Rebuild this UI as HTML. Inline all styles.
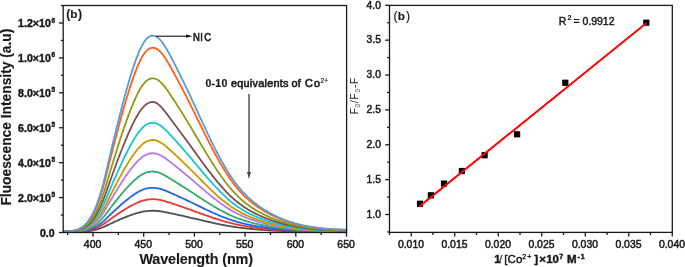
<!DOCTYPE html>
<html><head><meta charset="utf-8"><style>
html,body{margin:0;padding:0;background:#fff;}
body{width:685px;height:267px;overflow:hidden;font-family:"Liberation Sans",sans-serif;}
svg{display:block;will-change:transform;}
</style></head><body>
<svg width="685" height="267" viewBox="0 0 685 267">
<rect width="685" height="267" fill="#fff"/>
<g clip-path="url(#cl)">
<path d="M63.0,232.37 L64.0,232.36 L65.0,232.36 L66.0,232.35 L67.0,232.35 L68.0,232.34 L69.0,232.34 L70.0,232.33 L71.0,232.32 L72.0,232.31 L73.0,232.29 L74.0,232.27 L75.0,232.25 L76.0,232.22 L77.0,232.19 L78.0,232.15 L79.0,232.10 L80.0,232.04 L81.0,231.98 L82.0,231.91 L83.0,231.83 L84.0,231.73 L85.0,231.63 L86.0,231.52 L87.0,231.39 L88.0,231.25 L89.0,231.10 L90.0,230.93 L91.0,230.75 L92.0,230.56 L93.0,230.34 L94.0,230.12 L95.0,229.87 L96.0,229.61 L97.0,229.33 L98.0,229.03 L99.0,228.71 L100.0,228.36 L101.0,228.00 L102.0,227.62 L103.0,227.22 L104.0,226.79 L105.0,226.34 L106.0,225.87 L107.0,225.40 L108.0,224.92 L109.0,224.45 L110.0,223.97 L111.0,223.51 L112.0,223.04 L113.0,222.58 L114.0,222.12 L115.0,221.66 L116.0,221.21 L117.0,220.76 L118.0,220.31 L119.0,219.87 L120.0,219.44 L121.0,219.01 L122.0,218.58 L123.0,218.16 L124.0,217.75 L125.0,217.34 L126.0,216.94 L127.0,216.55 L128.0,216.16 L129.0,215.78 L130.0,215.41 L131.0,215.05 L132.0,214.70 L133.0,214.35 L134.0,214.02 L135.0,213.70 L136.0,213.39 L137.0,213.09 L138.0,212.81 L139.0,212.54 L140.0,212.29 L141.0,212.06 L142.0,211.84 L143.0,211.64 L144.0,211.47 L145.0,211.31 L146.0,211.17 L147.0,211.05 L148.0,210.95 L149.0,210.88 L150.0,210.82 L151.0,210.78 L152.0,210.75 L153.0,210.75 L154.0,210.77 L155.0,210.80 L156.0,210.86 L157.0,210.93 L158.0,211.02 L159.0,211.13 L160.0,211.25 L161.0,211.39 L162.0,211.54 L163.0,211.71 L164.0,211.88 L165.0,212.06 L166.0,212.26 L167.0,212.45 L168.0,212.66 L169.0,212.87 L170.0,213.08 L171.0,213.29 L172.0,213.51 L173.0,213.73 L174.0,213.95 L175.0,214.16 L176.0,214.38 L177.0,214.60 L178.0,214.82 L179.0,215.05 L180.0,215.27 L181.0,215.49 L182.0,215.72 L183.0,215.94 L184.0,216.17 L185.0,216.40 L186.0,216.63 L187.0,216.86 L188.0,217.09 L189.0,217.32 L190.0,217.55 L191.0,217.79 L192.0,218.02 L193.0,218.26 L194.0,218.50 L195.0,218.73 L196.0,218.97 L197.0,219.21 L198.0,219.44 L199.0,219.68 L200.0,219.92 L201.0,220.15 L202.0,220.39 L203.0,220.62 L204.0,220.86 L205.0,221.09 L206.0,221.32 L207.0,221.55 L208.0,221.78 L209.0,222.01 L210.0,222.24 L211.0,222.46 L212.0,222.68 L213.0,222.90 L214.0,223.12 L215.0,223.34 L216.0,223.55 L217.0,223.76 L218.0,223.97 L219.0,224.17 L220.0,224.38 L221.0,224.57 L222.0,224.77 L223.0,224.96 L224.0,225.15 L225.0,225.34 L226.0,225.52 L227.0,225.70 L228.0,225.88 L229.0,226.05 L230.0,226.22 L231.0,226.38 L232.0,226.55 L233.0,226.70 L234.0,226.86 L235.0,227.01 L236.0,227.15 L237.0,227.29 L238.0,227.43 L239.0,227.56 L240.0,227.69 L241.0,227.82 L242.0,227.94 L243.0,228.06 L244.0,228.18 L245.0,228.30 L246.0,228.41 L247.0,228.51 L248.0,228.62 L249.0,228.72 L250.0,228.82 L251.0,228.92 L252.0,229.01 L253.0,229.10 L254.0,229.19 L255.0,229.28 L256.0,229.36 L257.0,229.45 L258.0,229.53 L259.0,229.60 L260.0,229.68 L261.0,229.76 L262.0,229.83 L263.0,229.90 L264.0,229.97 L265.0,230.04 L266.0,230.11 L267.0,230.17 L268.0,230.24 L269.0,230.30 L270.0,230.36 L271.0,230.42 L272.0,230.48 L273.0,230.54 L274.0,230.59 L275.0,230.65 L276.0,230.70 L277.0,230.75 L278.0,230.80 L279.0,230.85 L280.0,230.90 L281.0,230.95 L282.0,230.99 L283.0,231.04 L284.0,231.08 L285.0,231.12 L286.0,231.16 L287.0,231.20 L288.0,231.24 L289.0,231.28 L290.0,231.32 L291.0,231.35 L292.0,231.39 L293.0,231.42 L294.0,231.45 L295.0,231.49 L296.0,231.52 L297.0,231.55 L298.0,231.58 L299.0,231.60 L300.0,231.63 L301.0,231.66 L302.0,231.68 L303.0,231.71 L304.0,231.73 L305.0,231.75 L306.0,231.77 L307.0,231.80 L308.0,231.82 L309.0,231.84 L310.0,231.86 L311.0,231.87 L312.0,231.89 L313.0,231.91 L314.0,231.92 L315.0,231.94 L316.0,231.95 L317.0,231.97 L318.0,231.98 L319.0,232.00 L320.0,232.01 L321.0,232.02 L322.0,232.03 L323.0,232.04 L324.0,232.05 L325.0,232.06 L326.0,232.07 L327.0,232.08 L328.0,232.09 L329.0,232.10 L330.0,232.11 L331.0,232.12 L332.0,232.12 L333.0,232.13 L334.0,232.14 L335.0,232.14 L336.0,232.15 L337.0,232.15 L338.0,232.16 L339.0,232.17 L340.0,232.17 L341.0,232.18 L342.0,232.18 L343.0,232.19 L344.0,232.19 L345.0,232.19 L346.0,232.20" fill="none" stroke="#4f4f4f" stroke-width="1.8" stroke-linejoin="round"/>
<path d="M63.0,232.30 L64.0,232.29 L65.0,232.28 L66.0,232.27 L67.0,232.26 L68.0,232.26 L69.0,232.25 L70.0,232.24 L71.0,232.22 L72.0,232.21 L73.0,232.18 L74.0,232.15 L75.0,232.12 L76.0,232.07 L77.0,232.02 L78.0,231.96 L79.0,231.89 L80.0,231.80 L81.0,231.71 L82.0,231.59 L83.0,231.47 L84.0,231.33 L85.0,231.17 L86.0,231.00 L87.0,230.80 L88.0,230.59 L89.0,230.36 L90.0,230.10 L91.0,229.82 L92.0,229.52 L93.0,229.20 L94.0,228.85 L95.0,228.47 L96.0,228.07 L97.0,227.64 L98.0,227.18 L99.0,226.69 L100.0,226.17 L101.0,225.62 L102.0,225.03 L103.0,224.41 L104.0,223.76 L105.0,223.07 L106.0,222.35 L107.0,221.62 L108.0,220.89 L109.0,220.17 L110.0,219.45 L111.0,218.73 L112.0,218.02 L113.0,217.31 L114.0,216.61 L115.0,215.91 L116.0,215.21 L117.0,214.52 L118.0,213.84 L119.0,213.17 L120.0,212.50 L121.0,211.84 L122.0,211.19 L123.0,210.55 L124.0,209.91 L125.0,209.29 L126.0,208.68 L127.0,208.07 L128.0,207.48 L129.0,206.90 L130.0,206.34 L131.0,205.78 L132.0,205.24 L133.0,204.72 L134.0,204.21 L135.0,203.71 L136.0,203.24 L137.0,202.79 L138.0,202.35 L139.0,201.95 L140.0,201.56 L141.0,201.20 L142.0,200.87 L143.0,200.57 L144.0,200.30 L145.0,200.05 L146.0,199.84 L147.0,199.66 L148.0,199.51 L149.0,199.39 L150.0,199.30 L151.0,199.24 L152.0,199.21 L153.0,199.20 L154.0,199.22 L155.0,199.28 L156.0,199.36 L157.0,199.48 L158.0,199.62 L159.0,199.78 L160.0,199.97 L161.0,200.18 L162.0,200.42 L163.0,200.67 L164.0,200.93 L165.0,201.21 L166.0,201.51 L167.0,201.81 L168.0,202.12 L169.0,202.44 L170.0,202.77 L171.0,203.10 L172.0,203.43 L173.0,203.76 L174.0,204.09 L175.0,204.43 L176.0,204.76 L177.0,205.10 L178.0,205.44 L179.0,205.78 L180.0,206.12 L181.0,206.46 L182.0,206.80 L183.0,207.15 L184.0,207.50 L185.0,207.84 L186.0,208.19 L187.0,208.55 L188.0,208.90 L189.0,209.26 L190.0,209.62 L191.0,209.98 L192.0,210.34 L193.0,210.70 L194.0,211.06 L195.0,211.42 L196.0,211.79 L197.0,212.15 L198.0,212.51 L199.0,212.87 L200.0,213.24 L201.0,213.60 L202.0,213.96 L203.0,214.32 L204.0,214.68 L205.0,215.03 L206.0,215.39 L207.0,215.74 L208.0,216.09 L209.0,216.44 L210.0,216.79 L211.0,217.13 L212.0,217.47 L213.0,217.81 L214.0,218.14 L215.0,218.47 L216.0,218.80 L217.0,219.12 L218.0,219.44 L219.0,219.75 L220.0,220.06 L221.0,220.37 L222.0,220.67 L223.0,220.96 L224.0,221.25 L225.0,221.54 L226.0,221.82 L227.0,222.09 L228.0,222.36 L229.0,222.63 L230.0,222.88 L231.0,223.14 L232.0,223.38 L233.0,223.62 L234.0,223.86 L235.0,224.09 L236.0,224.31 L237.0,224.53 L238.0,224.74 L239.0,224.94 L240.0,225.14 L241.0,225.34 L242.0,225.53 L243.0,225.71 L244.0,225.89 L245.0,226.06 L246.0,226.23 L247.0,226.40 L248.0,226.56 L249.0,226.71 L250.0,226.87 L251.0,227.01 L252.0,227.16 L253.0,227.30 L254.0,227.43 L255.0,227.57 L256.0,227.70 L257.0,227.82 L258.0,227.95 L259.0,228.07 L260.0,228.18 L261.0,228.30 L262.0,228.41 L263.0,228.52 L264.0,228.63 L265.0,228.73 L266.0,228.84 L267.0,228.94 L268.0,229.03 L269.0,229.13 L270.0,229.22 L271.0,229.32 L272.0,229.41 L273.0,229.49 L274.0,229.58 L275.0,229.66 L276.0,229.74 L277.0,229.82 L278.0,229.90 L279.0,229.98 L280.0,230.05 L281.0,230.12 L282.0,230.19 L283.0,230.26 L284.0,230.33 L285.0,230.39 L286.0,230.45 L287.0,230.52 L288.0,230.58 L289.0,230.63 L290.0,230.69 L291.0,230.74 L292.0,230.80 L293.0,230.85 L294.0,230.90 L295.0,230.95 L296.0,230.99 L297.0,231.04 L298.0,231.08 L299.0,231.13 L300.0,231.17 L301.0,231.21 L302.0,231.25 L303.0,231.28 L304.0,231.32 L305.0,231.36 L306.0,231.39 L307.0,231.42 L308.0,231.45 L309.0,231.48 L310.0,231.51 L311.0,231.54 L312.0,231.57 L313.0,231.59 L314.0,231.62 L315.0,231.64 L316.0,231.66 L317.0,231.69 L318.0,231.71 L319.0,231.73 L320.0,231.75 L321.0,231.77 L322.0,231.78 L323.0,231.80 L324.0,231.82 L325.0,231.83 L326.0,231.85 L327.0,231.86 L328.0,231.87 L329.0,231.89 L330.0,231.90 L331.0,231.91 L332.0,231.92 L333.0,231.93 L334.0,231.94 L335.0,231.95 L336.0,231.96 L337.0,231.97 L338.0,231.98 L339.0,231.99 L340.0,232.00 L341.0,232.00 L342.0,232.01 L343.0,232.02 L344.0,232.02 L345.0,232.03 L346.0,232.04" fill="none" stroke="#ee3636" stroke-width="1.8" stroke-linejoin="round"/>
<path d="M63.0,232.24 L64.0,232.22 L65.0,232.21 L66.0,232.19 L67.0,232.18 L68.0,232.17 L69.0,232.16 L70.0,232.15 L71.0,232.13 L72.0,232.10 L73.0,232.07 L74.0,232.04 L75.0,231.99 L76.0,231.93 L77.0,231.86 L78.0,231.78 L79.0,231.68 L80.0,231.56 L81.0,231.43 L82.0,231.28 L83.0,231.12 L84.0,230.93 L85.0,230.72 L86.0,230.48 L87.0,230.22 L88.0,229.94 L89.0,229.62 L90.0,229.28 L91.0,228.91 L92.0,228.51 L93.0,228.07 L94.0,227.60 L95.0,227.10 L96.0,226.55 L97.0,225.98 L98.0,225.36 L99.0,224.70 L100.0,224.00 L101.0,223.26 L102.0,222.47 L103.0,221.64 L104.0,220.76 L105.0,219.84 L106.0,218.88 L107.0,217.90 L108.0,216.92 L109.0,215.95 L110.0,214.98 L111.0,214.02 L112.0,213.06 L113.0,212.11 L114.0,211.16 L115.0,210.23 L116.0,209.29 L117.0,208.37 L118.0,207.46 L119.0,206.55 L120.0,205.65 L121.0,204.77 L122.0,203.89 L123.0,203.03 L124.0,202.18 L125.0,201.34 L126.0,200.52 L127.0,199.71 L128.0,198.92 L129.0,198.14 L130.0,197.38 L131.0,196.64 L132.0,195.91 L133.0,195.20 L134.0,194.52 L135.0,193.86 L136.0,193.22 L137.0,192.61 L138.0,192.03 L139.0,191.49 L140.0,190.97 L141.0,190.49 L142.0,190.04 L143.0,189.64 L144.0,189.27 L145.0,188.94 L146.0,188.66 L147.0,188.42 L148.0,188.22 L149.0,188.06 L150.0,187.94 L151.0,187.85 L152.0,187.81 L153.0,187.80 L154.0,187.83 L155.0,187.91 L156.0,188.02 L157.0,188.17 L158.0,188.36 L159.0,188.58 L160.0,188.84 L161.0,189.12 L162.0,189.43 L163.0,189.77 L164.0,190.13 L165.0,190.50 L166.0,190.90 L167.0,191.30 L168.0,191.72 L169.0,192.15 L170.0,192.59 L171.0,193.03 L172.0,193.47 L173.0,193.92 L174.0,194.37 L175.0,194.82 L176.0,195.27 L177.0,195.72 L178.0,196.17 L179.0,196.63 L180.0,197.09 L181.0,197.54 L182.0,198.01 L183.0,198.47 L184.0,198.94 L185.0,199.40 L186.0,199.87 L187.0,200.35 L188.0,200.82 L189.0,201.30 L190.0,201.78 L191.0,202.26 L192.0,202.75 L193.0,203.23 L194.0,203.72 L195.0,204.21 L196.0,204.69 L197.0,205.18 L198.0,205.67 L199.0,206.16 L200.0,206.64 L201.0,207.13 L202.0,207.61 L203.0,208.09 L204.0,208.57 L205.0,209.05 L206.0,209.53 L207.0,210.00 L208.0,210.48 L209.0,210.94 L210.0,211.41 L211.0,211.87 L212.0,212.33 L213.0,212.78 L214.0,213.23 L215.0,213.67 L216.0,214.11 L217.0,214.54 L218.0,214.97 L219.0,215.39 L220.0,215.80 L221.0,216.21 L222.0,216.61 L223.0,217.01 L224.0,217.40 L225.0,217.78 L226.0,218.16 L227.0,218.53 L228.0,218.89 L229.0,219.25 L230.0,219.59 L231.0,219.93 L232.0,220.26 L233.0,220.59 L234.0,220.90 L235.0,221.21 L236.0,221.51 L237.0,221.80 L238.0,222.08 L239.0,222.36 L240.0,222.62 L241.0,222.88 L242.0,223.14 L243.0,223.38 L244.0,223.62 L245.0,223.86 L246.0,224.09 L247.0,224.31 L248.0,224.52 L249.0,224.73 L250.0,224.94 L251.0,225.14 L252.0,225.33 L253.0,225.52 L254.0,225.70 L255.0,225.88 L256.0,226.05 L257.0,226.22 L258.0,226.39 L259.0,226.55 L260.0,226.71 L261.0,226.86 L262.0,227.01 L263.0,227.16 L264.0,227.30 L265.0,227.44 L266.0,227.58 L267.0,227.72 L268.0,227.85 L269.0,227.98 L270.0,228.10 L271.0,228.23 L272.0,228.35 L273.0,228.46 L274.0,228.58 L275.0,228.69 L276.0,228.80 L277.0,228.91 L278.0,229.01 L279.0,229.11 L280.0,229.21 L281.0,229.31 L282.0,229.40 L283.0,229.49 L284.0,229.58 L285.0,229.67 L286.0,229.75 L287.0,229.84 L288.0,229.92 L289.0,229.99 L290.0,230.07 L291.0,230.14 L292.0,230.22 L293.0,230.28 L294.0,230.35 L295.0,230.42 L296.0,230.48 L297.0,230.54 L298.0,230.60 L299.0,230.66 L300.0,230.71 L301.0,230.77 L302.0,230.82 L303.0,230.87 L304.0,230.92 L305.0,230.96 L306.0,231.01 L307.0,231.05 L308.0,231.10 L309.0,231.14 L310.0,231.17 L311.0,231.21 L312.0,231.25 L313.0,231.28 L314.0,231.32 L315.0,231.35 L316.0,231.38 L317.0,231.41 L318.0,231.44 L319.0,231.46 L320.0,231.49 L321.0,231.51 L322.0,231.54 L323.0,231.56 L324.0,231.58 L325.0,231.60 L326.0,231.62 L327.0,231.64 L328.0,231.66 L329.0,231.68 L330.0,231.69 L331.0,231.71 L332.0,231.73 L333.0,231.74 L334.0,231.75 L335.0,231.77 L336.0,231.78 L337.0,231.79 L338.0,231.80 L339.0,231.81 L340.0,231.82 L341.0,231.83 L342.0,231.84 L343.0,231.85 L344.0,231.86 L345.0,231.87 L346.0,231.88" fill="none" stroke="#1f66ee" stroke-width="1.8" stroke-linejoin="round"/>
<path d="M63.0,232.14 L64.0,232.12 L65.0,232.10 L66.0,232.08 L67.0,232.07 L68.0,232.06 L69.0,232.04 L70.0,232.02 L71.0,231.99 L72.0,231.96 L73.0,231.92 L74.0,231.87 L75.0,231.80 L76.0,231.72 L77.0,231.63 L78.0,231.51 L79.0,231.38 L80.0,231.22 L81.0,231.04 L82.0,230.84 L83.0,230.61 L84.0,230.35 L85.0,230.06 L86.0,229.74 L87.0,229.39 L88.0,229.00 L89.0,228.57 L90.0,228.11 L91.0,227.60 L92.0,227.05 L93.0,226.45 L94.0,225.81 L95.0,225.13 L96.0,224.39 L97.0,223.60 L98.0,222.75 L99.0,221.86 L100.0,220.90 L101.0,219.89 L102.0,218.82 L103.0,217.68 L104.0,216.48 L105.0,215.22 L106.0,213.91 L107.0,212.57 L108.0,211.24 L109.0,209.91 L110.0,208.59 L111.0,207.28 L112.0,205.97 L113.0,204.67 L114.0,203.39 L115.0,202.10 L116.0,200.83 L117.0,199.57 L118.0,198.32 L119.0,197.09 L120.0,195.86 L121.0,194.66 L122.0,193.46 L123.0,192.29 L124.0,191.13 L125.0,189.98 L126.0,188.86 L127.0,187.76 L128.0,186.67 L129.0,185.61 L130.0,184.57 L131.0,183.56 L132.0,182.57 L133.0,181.60 L134.0,180.67 L135.0,179.77 L136.0,178.90 L137.0,178.07 L138.0,177.28 L139.0,176.53 L140.0,175.83 L141.0,175.17 L142.0,174.56 L143.0,174.01 L144.0,173.51 L145.0,173.06 L146.0,172.68 L147.0,172.35 L148.0,172.07 L149.0,171.85 L150.0,171.69 L151.0,171.57 L152.0,171.51 L153.0,171.50 L154.0,171.55 L155.0,171.67 L156.0,171.85 L157.0,172.08 L158.0,172.37 L159.0,172.71 L160.0,173.10 L161.0,173.53 L162.0,174.00 L163.0,174.50 L164.0,175.02 L165.0,175.57 L166.0,176.14 L167.0,176.73 L168.0,177.32 L169.0,177.93 L170.0,178.55 L171.0,179.16 L172.0,179.78 L173.0,180.40 L174.0,181.02 L175.0,181.63 L176.0,182.25 L177.0,182.88 L178.0,183.50 L179.0,184.12 L180.0,184.75 L181.0,185.38 L182.0,186.01 L183.0,186.64 L184.0,187.27 L185.0,187.91 L186.0,188.55 L187.0,189.20 L188.0,189.84 L189.0,190.49 L190.0,191.14 L191.0,191.79 L192.0,192.45 L193.0,193.10 L194.0,193.76 L195.0,194.42 L196.0,195.07 L197.0,195.73 L198.0,196.39 L199.0,197.04 L200.0,197.69 L201.0,198.35 L202.0,199.00 L203.0,199.64 L204.0,200.29 L205.0,200.93 L206.0,201.57 L207.0,202.21 L208.0,202.84 L209.0,203.47 L210.0,204.09 L211.0,204.71 L212.0,205.32 L213.0,205.92 L214.0,206.52 L215.0,207.12 L216.0,207.70 L217.0,208.28 L218.0,208.85 L219.0,209.42 L220.0,209.97 L221.0,210.52 L222.0,211.06 L223.0,211.59 L224.0,212.12 L225.0,212.63 L226.0,213.13 L227.0,213.63 L228.0,214.11 L229.0,214.59 L230.0,215.05 L231.0,215.51 L232.0,215.95 L233.0,216.38 L234.0,216.81 L235.0,217.22 L236.0,217.62 L237.0,218.01 L238.0,218.39 L239.0,218.76 L240.0,219.12 L241.0,219.47 L242.0,219.81 L243.0,220.14 L244.0,220.47 L245.0,220.78 L246.0,221.09 L247.0,221.39 L248.0,221.68 L249.0,221.96 L250.0,222.23 L251.0,222.50 L252.0,222.76 L253.0,223.02 L254.0,223.26 L255.0,223.51 L256.0,223.74 L257.0,223.97 L258.0,224.19 L259.0,224.41 L260.0,224.63 L261.0,224.83 L262.0,225.04 L263.0,225.24 L264.0,225.43 L265.0,225.62 L266.0,225.81 L267.0,225.99 L268.0,226.17 L269.0,226.35 L270.0,226.52 L271.0,226.68 L272.0,226.85 L273.0,227.01 L274.0,227.16 L275.0,227.32 L276.0,227.46 L277.0,227.61 L278.0,227.75 L279.0,227.89 L280.0,228.02 L281.0,228.15 L282.0,228.28 L283.0,228.41 L284.0,228.53 L285.0,228.65 L286.0,228.76 L287.0,228.87 L288.0,228.98 L289.0,229.09 L290.0,229.19 L291.0,229.29 L292.0,229.39 L293.0,229.48 L294.0,229.57 L295.0,229.66 L296.0,229.75 L297.0,229.83 L298.0,229.91 L299.0,229.99 L300.0,230.06 L301.0,230.14 L302.0,230.21 L303.0,230.28 L304.0,230.34 L305.0,230.41 L306.0,230.47 L307.0,230.53 L308.0,230.58 L309.0,230.64 L310.0,230.69 L311.0,230.74 L312.0,230.79 L313.0,230.84 L314.0,230.89 L315.0,230.93 L316.0,230.97 L317.0,231.01 L318.0,231.05 L319.0,231.09 L320.0,231.12 L321.0,231.16 L322.0,231.19 L323.0,231.22 L324.0,231.25 L325.0,231.28 L326.0,231.30 L327.0,231.33 L328.0,231.36 L329.0,231.38 L330.0,231.40 L331.0,231.42 L332.0,231.44 L333.0,231.46 L334.0,231.48 L335.0,231.50 L336.0,231.52 L337.0,231.53 L338.0,231.55 L339.0,231.56 L340.0,231.58 L341.0,231.59 L342.0,231.60 L343.0,231.62 L344.0,231.63 L345.0,231.64 L346.0,231.65" fill="none" stroke="#36a868" stroke-width="1.8" stroke-linejoin="round"/>
<path d="M63.0,232.03 L64.0,232.00 L65.0,231.98 L66.0,231.96 L67.0,231.94 L68.0,231.92 L69.0,231.90 L70.0,231.88 L71.0,231.84 L72.0,231.80 L73.0,231.74 L74.0,231.68 L75.0,231.59 L76.0,231.49 L77.0,231.36 L78.0,231.22 L79.0,231.04 L80.0,230.84 L81.0,230.61 L82.0,230.35 L83.0,230.05 L84.0,229.71 L85.0,229.34 L86.0,228.92 L87.0,228.46 L88.0,227.95 L89.0,227.40 L90.0,226.79 L91.0,226.13 L92.0,225.42 L93.0,224.65 L94.0,223.81 L95.0,222.92 L96.0,221.96 L97.0,220.93 L98.0,219.84 L99.0,218.67 L100.0,217.43 L101.0,216.12 L102.0,214.72 L103.0,213.25 L104.0,211.69 L105.0,210.05 L106.0,208.35 L107.0,206.61 L108.0,204.88 L109.0,203.15 L110.0,201.44 L111.0,199.73 L112.0,198.04 L113.0,196.35 L114.0,194.67 L115.0,193.01 L116.0,191.36 L117.0,189.72 L118.0,188.10 L119.0,186.49 L120.0,184.90 L121.0,183.33 L122.0,181.78 L123.0,180.25 L124.0,178.75 L125.0,177.26 L126.0,175.80 L127.0,174.37 L128.0,172.96 L129.0,171.58 L130.0,170.23 L131.0,168.91 L132.0,167.63 L133.0,166.38 L134.0,165.16 L135.0,163.99 L136.0,162.86 L137.0,161.79 L138.0,160.76 L139.0,159.79 L140.0,158.87 L141.0,158.02 L142.0,157.23 L143.0,156.51 L144.0,155.86 L145.0,155.28 L146.0,154.78 L147.0,154.35 L148.0,153.99 L149.0,153.71 L150.0,153.49 L151.0,153.35 L152.0,153.27 L153.0,153.25 L154.0,153.31 L155.0,153.44 L156.0,153.64 L157.0,153.91 L158.0,154.24 L159.0,154.64 L160.0,155.09 L161.0,155.59 L162.0,156.14 L163.0,156.74 L164.0,157.37 L165.0,158.04 L166.0,158.74 L167.0,159.46 L168.0,160.20 L169.0,160.96 L170.0,161.74 L171.0,162.52 L172.0,163.31 L173.0,164.10 L174.0,164.90 L175.0,165.69 L176.0,166.49 L177.0,167.29 L178.0,168.09 L179.0,168.90 L180.0,169.71 L181.0,170.53 L182.0,171.34 L183.0,172.17 L184.0,172.99 L185.0,173.82 L186.0,174.66 L187.0,175.50 L188.0,176.34 L189.0,177.19 L190.0,178.04 L191.0,178.89 L192.0,179.75 L193.0,180.61 L194.0,181.47 L195.0,182.34 L196.0,183.20 L197.0,184.07 L198.0,184.93 L199.0,185.79 L200.0,186.65 L201.0,187.52 L202.0,188.37 L203.0,189.23 L204.0,190.08 L205.0,190.93 L206.0,191.78 L207.0,192.62 L208.0,193.45 L209.0,194.28 L210.0,195.11 L211.0,195.92 L212.0,196.73 L213.0,197.53 L214.0,198.33 L215.0,199.11 L216.0,199.89 L217.0,200.66 L218.0,201.41 L219.0,202.16 L220.0,202.90 L221.0,203.62 L222.0,204.34 L223.0,205.04 L224.0,205.73 L225.0,206.41 L226.0,207.08 L227.0,207.73 L228.0,208.37 L229.0,209.00 L230.0,209.62 L231.0,210.22 L232.0,210.81 L233.0,211.38 L234.0,211.94 L235.0,212.48 L236.0,213.01 L237.0,213.52 L238.0,214.03 L239.0,214.51 L240.0,214.99 L241.0,215.45 L242.0,215.90 L243.0,216.34 L244.0,216.77 L245.0,217.18 L246.0,217.58 L247.0,217.98 L248.0,218.36 L249.0,218.73 L250.0,219.09 L251.0,219.44 L252.0,219.79 L253.0,220.12 L254.0,220.44 L255.0,220.76 L256.0,221.07 L257.0,221.37 L258.0,221.66 L259.0,221.95 L260.0,222.23 L261.0,222.50 L262.0,222.77 L263.0,223.03 L264.0,223.28 L265.0,223.53 L266.0,223.78 L267.0,224.02 L268.0,224.25 L269.0,224.48 L270.0,224.70 L271.0,224.92 L272.0,225.13 L273.0,225.34 L274.0,225.55 L275.0,225.75 L276.0,225.94 L277.0,226.13 L278.0,226.31 L279.0,226.49 L280.0,226.67 L281.0,226.84 L282.0,227.01 L283.0,227.17 L284.0,227.33 L285.0,227.48 L286.0,227.63 L287.0,227.78 L288.0,227.92 L289.0,228.06 L290.0,228.19 L291.0,228.32 L292.0,228.45 L293.0,228.57 L294.0,228.69 L295.0,228.81 L296.0,228.92 L297.0,229.03 L298.0,229.13 L299.0,229.23 L300.0,229.33 L301.0,229.43 L302.0,229.52 L303.0,229.61 L304.0,229.69 L305.0,229.78 L306.0,229.86 L307.0,229.93 L308.0,230.01 L309.0,230.08 L310.0,230.15 L311.0,230.22 L312.0,230.28 L313.0,230.34 L314.0,230.40 L315.0,230.46 L316.0,230.51 L317.0,230.56 L318.0,230.61 L319.0,230.66 L320.0,230.71 L321.0,230.75 L322.0,230.80 L323.0,230.84 L324.0,230.87 L325.0,230.91 L326.0,230.95 L327.0,230.98 L328.0,231.01 L329.0,231.04 L330.0,231.07 L331.0,231.10 L332.0,231.13 L333.0,231.15 L334.0,231.18 L335.0,231.20 L336.0,231.22 L337.0,231.24 L338.0,231.26 L339.0,231.28 L340.0,231.30 L341.0,231.32 L342.0,231.34 L343.0,231.35 L344.0,231.37 L345.0,231.39 L346.0,231.40" fill="none" stroke="#b07be6" stroke-width="1.8" stroke-linejoin="round"/>
<path d="M63.0,231.96 L64.0,231.92 L65.0,231.89 L66.0,231.87 L67.0,231.85 L68.0,231.83 L69.0,231.80 L70.0,231.77 L71.0,231.73 L72.0,231.68 L73.0,231.62 L74.0,231.54 L75.0,231.44 L76.0,231.32 L77.0,231.17 L78.0,231.00 L79.0,230.80 L80.0,230.56 L81.0,230.29 L82.0,229.99 L83.0,229.64 L84.0,229.25 L85.0,228.81 L86.0,228.32 L87.0,227.78 L88.0,227.19 L89.0,226.54 L90.0,225.84 L91.0,225.07 L92.0,224.23 L93.0,223.33 L94.0,222.36 L95.0,221.32 L96.0,220.20 L97.0,219.00 L98.0,217.72 L99.0,216.36 L100.0,214.91 L101.0,213.38 L102.0,211.75 L103.0,210.03 L104.0,208.21 L105.0,206.30 L106.0,204.31 L107.0,202.28 L108.0,200.26 L109.0,198.24 L110.0,196.24 L111.0,194.25 L112.0,192.27 L113.0,190.31 L114.0,188.35 L115.0,186.41 L116.0,184.48 L117.0,182.57 L118.0,180.67 L119.0,178.80 L120.0,176.95 L121.0,175.11 L122.0,173.30 L123.0,171.52 L124.0,169.76 L125.0,168.03 L126.0,166.32 L127.0,164.65 L128.0,163.01 L129.0,161.40 L130.0,159.82 L131.0,158.28 L132.0,156.78 L133.0,155.32 L134.0,153.90 L135.0,152.54 L136.0,151.22 L137.0,149.96 L138.0,148.76 L139.0,147.63 L140.0,146.56 L141.0,145.56 L142.0,144.64 L143.0,143.80 L144.0,143.04 L145.0,142.37 L146.0,141.78 L147.0,141.28 L148.0,140.87 L149.0,140.54 L150.0,140.28 L151.0,140.11 L152.0,140.02 L153.0,140.00 L154.0,140.07 L155.0,140.22 L156.0,140.46 L157.0,140.77 L158.0,141.16 L159.0,141.62 L160.0,142.15 L161.0,142.73 L162.0,143.38 L163.0,144.07 L164.0,144.81 L165.0,145.59 L166.0,146.40 L167.0,147.25 L168.0,148.12 L169.0,149.00 L170.0,149.91 L171.0,150.82 L172.0,151.74 L173.0,152.67 L174.0,153.59 L175.0,154.52 L176.0,155.45 L177.0,156.39 L178.0,157.33 L179.0,158.27 L180.0,159.21 L181.0,160.16 L182.0,161.12 L183.0,162.08 L184.0,163.04 L185.0,164.01 L186.0,164.99 L187.0,165.97 L188.0,166.95 L189.0,167.94 L190.0,168.93 L191.0,169.93 L192.0,170.93 L193.0,171.94 L194.0,172.94 L195.0,173.95 L196.0,174.96 L197.0,175.97 L198.0,176.98 L199.0,177.98 L200.0,178.99 L201.0,179.99 L202.0,181.00 L203.0,182.00 L204.0,182.99 L205.0,183.98 L206.0,184.97 L207.0,185.95 L208.0,186.92 L209.0,187.89 L210.0,188.85 L211.0,189.81 L212.0,190.75 L213.0,191.69 L214.0,192.61 L215.0,193.53 L216.0,194.44 L217.0,195.33 L218.0,196.22 L219.0,197.09 L220.0,197.95 L221.0,198.79 L222.0,199.63 L223.0,200.45 L224.0,201.25 L225.0,202.05 L226.0,202.83 L227.0,203.59 L228.0,204.34 L229.0,205.07 L230.0,205.79 L231.0,206.49 L232.0,207.18 L233.0,207.85 L234.0,208.50 L235.0,209.13 L236.0,209.75 L237.0,210.35 L238.0,210.94 L239.0,211.51 L240.0,212.06 L241.0,212.60 L242.0,213.13 L243.0,213.64 L244.0,214.13 L245.0,214.62 L246.0,215.09 L247.0,215.55 L248.0,215.99 L249.0,216.43 L250.0,216.85 L251.0,217.26 L252.0,217.66 L253.0,218.05 L254.0,218.43 L255.0,218.80 L256.0,219.16 L257.0,219.51 L258.0,219.85 L259.0,220.19 L260.0,220.51 L261.0,220.83 L262.0,221.14 L263.0,221.45 L264.0,221.74 L265.0,222.03 L266.0,222.32 L267.0,222.60 L268.0,222.87 L269.0,223.14 L270.0,223.40 L271.0,223.65 L272.0,223.90 L273.0,224.15 L274.0,224.38 L275.0,224.62 L276.0,224.84 L277.0,225.06 L278.0,225.28 L279.0,225.49 L280.0,225.70 L281.0,225.90 L282.0,226.09 L283.0,226.28 L284.0,226.46 L285.0,226.64 L286.0,226.82 L287.0,226.99 L288.0,227.16 L289.0,227.32 L290.0,227.47 L291.0,227.62 L292.0,227.77 L293.0,227.92 L294.0,228.05 L295.0,228.19 L296.0,228.32 L297.0,228.45 L298.0,228.57 L299.0,228.69 L300.0,228.80 L301.0,228.91 L302.0,229.02 L303.0,229.12 L304.0,229.23 L305.0,229.32 L306.0,229.42 L307.0,229.51 L308.0,229.59 L309.0,229.68 L310.0,229.76 L311.0,229.83 L312.0,229.91 L313.0,229.98 L314.0,230.05 L315.0,230.12 L316.0,230.18 L317.0,230.24 L318.0,230.30 L319.0,230.36 L320.0,230.41 L321.0,230.46 L322.0,230.51 L323.0,230.56 L324.0,230.60 L325.0,230.65 L326.0,230.69 L327.0,230.73 L328.0,230.76 L329.0,230.80 L330.0,230.83 L331.0,230.87 L332.0,230.90 L333.0,230.93 L334.0,230.95 L335.0,230.98 L336.0,231.01 L337.0,231.03 L338.0,231.06 L339.0,231.08 L340.0,231.10 L341.0,231.12 L342.0,231.14 L343.0,231.16 L344.0,231.18 L345.0,231.20 L346.0,231.22" fill="none" stroke="#c99a00" stroke-width="1.8" stroke-linejoin="round"/>
<path d="M63.0,231.85 L64.0,231.81 L65.0,231.78 L66.0,231.75 L67.0,231.72 L68.0,231.70 L69.0,231.67 L70.0,231.63 L71.0,231.59 L72.0,231.53 L73.0,231.45 L74.0,231.36 L75.0,231.24 L76.0,231.10 L77.0,230.93 L78.0,230.72 L79.0,230.48 L80.0,230.20 L81.0,229.88 L82.0,229.52 L83.0,229.10 L84.0,228.64 L85.0,228.12 L86.0,227.54 L87.0,226.90 L88.0,226.20 L89.0,225.43 L90.0,224.59 L91.0,223.68 L92.0,222.69 L93.0,221.62 L94.0,220.47 L95.0,219.23 L96.0,217.90 L97.0,216.48 L98.0,214.97 L99.0,213.35 L100.0,211.63 L101.0,209.81 L102.0,207.88 L103.0,205.84 L104.0,203.68 L105.0,201.41 L106.0,199.05 L107.0,196.65 L108.0,194.24 L109.0,191.86 L110.0,189.48 L111.0,187.12 L112.0,184.77 L113.0,182.44 L114.0,180.12 L115.0,177.81 L116.0,175.52 L117.0,173.26 L118.0,171.01 L119.0,168.79 L120.0,166.59 L121.0,164.41 L122.0,162.26 L123.0,160.15 L124.0,158.06 L125.0,156.00 L126.0,153.98 L127.0,152.00 L128.0,150.05 L129.0,148.14 L130.0,146.27 L131.0,144.44 L132.0,142.66 L133.0,140.93 L134.0,139.25 L135.0,137.62 L136.0,136.06 L137.0,134.57 L138.0,133.15 L139.0,131.80 L140.0,130.53 L141.0,129.35 L142.0,128.26 L143.0,127.26 L144.0,126.36 L145.0,125.56 L146.0,124.87 L147.0,124.27 L148.0,123.78 L149.0,123.39 L150.0,123.09 L151.0,122.88 L152.0,122.77 L153.0,122.75 L154.0,122.83 L155.0,123.01 L156.0,123.29 L157.0,123.66 L158.0,124.12 L159.0,124.67 L160.0,125.30 L161.0,125.99 L162.0,126.76 L163.0,127.58 L164.0,128.46 L165.0,129.38 L166.0,130.35 L167.0,131.35 L168.0,132.38 L169.0,133.43 L170.0,134.51 L171.0,135.59 L172.0,136.68 L173.0,137.78 L174.0,138.88 L175.0,139.98 L176.0,141.08 L177.0,142.19 L178.0,143.31 L179.0,144.42 L180.0,145.55 L181.0,146.67 L182.0,147.81 L183.0,148.95 L184.0,150.09 L185.0,151.24 L186.0,152.40 L187.0,153.56 L188.0,154.73 L189.0,155.90 L190.0,157.08 L191.0,158.26 L192.0,159.45 L193.0,160.64 L194.0,161.84 L195.0,163.03 L196.0,164.23 L197.0,165.42 L198.0,166.62 L199.0,167.82 L200.0,169.01 L201.0,170.20 L202.0,171.39 L203.0,172.58 L204.0,173.76 L205.0,174.93 L206.0,176.10 L207.0,177.27 L208.0,178.42 L209.0,179.57 L210.0,180.71 L211.0,181.84 L212.0,182.97 L213.0,184.08 L214.0,185.18 L215.0,186.26 L216.0,187.34 L217.0,188.40 L218.0,189.45 L219.0,190.48 L220.0,191.50 L221.0,192.51 L222.0,193.50 L223.0,194.47 L224.0,195.43 L225.0,196.37 L226.0,197.29 L227.0,198.20 L228.0,199.09 L229.0,199.96 L230.0,200.81 L231.0,201.64 L232.0,202.46 L233.0,203.25 L234.0,204.02 L235.0,204.77 L236.0,205.51 L237.0,206.22 L238.0,206.92 L239.0,207.59 L240.0,208.25 L241.0,208.89 L242.0,209.51 L243.0,210.12 L244.0,210.71 L245.0,211.28 L246.0,211.84 L247.0,212.39 L248.0,212.91 L249.0,213.43 L250.0,213.93 L251.0,214.42 L252.0,214.89 L253.0,215.35 L254.0,215.80 L255.0,216.24 L256.0,216.67 L257.0,217.09 L258.0,217.49 L259.0,217.89 L260.0,218.28 L261.0,218.65 L262.0,219.02 L263.0,219.38 L264.0,219.74 L265.0,220.08 L266.0,220.42 L267.0,220.75 L268.0,221.08 L269.0,221.39 L270.0,221.70 L271.0,222.00 L272.0,222.30 L273.0,222.59 L274.0,222.87 L275.0,223.15 L276.0,223.42 L277.0,223.68 L278.0,223.93 L279.0,224.18 L280.0,224.43 L281.0,224.66 L282.0,224.89 L283.0,225.12 L284.0,225.34 L285.0,225.55 L286.0,225.76 L287.0,225.96 L288.0,226.16 L289.0,226.35 L290.0,226.53 L291.0,226.72 L292.0,226.89 L293.0,227.06 L294.0,227.22 L295.0,227.38 L296.0,227.54 L297.0,227.69 L298.0,227.84 L299.0,227.98 L300.0,228.11 L301.0,228.24 L302.0,228.37 L303.0,228.50 L304.0,228.61 L305.0,228.73 L306.0,228.84 L307.0,228.95 L308.0,229.05 L309.0,229.15 L310.0,229.25 L311.0,229.34 L312.0,229.43 L313.0,229.51 L314.0,229.59 L315.0,229.67 L316.0,229.75 L317.0,229.82 L318.0,229.89 L319.0,229.96 L320.0,230.02 L321.0,230.08 L322.0,230.14 L323.0,230.20 L324.0,230.25 L325.0,230.30 L326.0,230.35 L327.0,230.39 L328.0,230.44 L329.0,230.48 L330.0,230.52 L331.0,230.56 L332.0,230.60 L333.0,230.63 L334.0,230.67 L335.0,230.70 L336.0,230.73 L337.0,230.76 L338.0,230.79 L339.0,230.81 L340.0,230.84 L341.0,230.86 L342.0,230.89 L343.0,230.91 L344.0,230.93 L345.0,230.96 L346.0,230.98" fill="none" stroke="#19c5d0" stroke-width="1.8" stroke-linejoin="round"/>
<path d="M63.0,231.73 L64.0,231.68 L65.0,231.64 L66.0,231.61 L67.0,231.58 L68.0,231.55 L69.0,231.51 L70.0,231.47 L71.0,231.42 L72.0,231.35 L73.0,231.26 L74.0,231.14 L75.0,231.00 L76.0,230.83 L77.0,230.63 L78.0,230.38 L79.0,230.10 L80.0,229.77 L81.0,229.39 L82.0,228.95 L83.0,228.46 L84.0,227.91 L85.0,227.29 L86.0,226.60 L87.0,225.85 L88.0,225.01 L89.0,224.10 L90.0,223.10 L91.0,222.01 L92.0,220.84 L93.0,219.57 L94.0,218.20 L95.0,216.72 L96.0,215.14 L97.0,213.45 L98.0,211.65 L99.0,209.73 L100.0,207.69 L101.0,205.52 L102.0,203.23 L103.0,200.80 L104.0,198.24 L105.0,195.53 L106.0,192.73 L107.0,189.87 L108.0,187.01 L109.0,184.17 L110.0,181.35 L111.0,178.54 L112.0,175.75 L113.0,172.97 L114.0,170.21 L115.0,167.47 L116.0,164.75 L117.0,162.06 L118.0,159.38 L119.0,156.74 L120.0,154.12 L121.0,151.54 L122.0,148.98 L123.0,146.47 L124.0,143.98 L125.0,141.54 L126.0,139.14 L127.0,136.78 L128.0,134.46 L129.0,132.19 L130.0,129.97 L131.0,127.80 L132.0,125.68 L133.0,123.61 L134.0,121.62 L135.0,119.69 L136.0,117.83 L137.0,116.05 L138.0,114.36 L139.0,112.76 L140.0,111.26 L141.0,109.85 L142.0,108.55 L143.0,107.36 L144.0,106.29 L145.0,105.34 L146.0,104.52 L147.0,103.81 L148.0,103.23 L149.0,102.76 L150.0,102.40 L151.0,102.16 L152.0,102.03 L153.0,102.00 L154.0,102.13 L155.0,102.42 L156.0,102.85 L157.0,103.41 L158.0,104.12 L159.0,104.94 L160.0,105.86 L161.0,106.87 L162.0,107.95 L163.0,109.10 L164.0,110.31 L165.0,111.56 L166.0,112.84 L167.0,114.16 L168.0,115.49 L169.0,116.83 L170.0,118.17 L171.0,119.52 L172.0,120.86 L173.0,122.20 L174.0,123.54 L175.0,124.88 L176.0,126.22 L177.0,127.56 L178.0,128.90 L179.0,130.24 L180.0,131.58 L181.0,132.93 L182.0,134.28 L183.0,135.63 L184.0,136.99 L185.0,138.35 L186.0,139.72 L187.0,141.09 L188.0,142.46 L189.0,143.84 L190.0,145.22 L191.0,146.61 L192.0,147.99 L193.0,149.38 L194.0,150.77 L195.0,152.15 L196.0,153.54 L197.0,154.93 L198.0,156.31 L199.0,157.69 L200.0,159.07 L201.0,160.44 L202.0,161.81 L203.0,163.17 L204.0,164.53 L205.0,165.88 L206.0,167.22 L207.0,168.56 L208.0,169.89 L209.0,171.20 L210.0,172.51 L211.0,173.81 L212.0,175.09 L213.0,176.36 L214.0,177.62 L215.0,178.87 L216.0,180.10 L217.0,181.31 L218.0,182.51 L219.0,183.69 L220.0,184.86 L221.0,186.01 L222.0,187.15 L223.0,188.26 L224.0,189.36 L225.0,190.44 L226.0,191.50 L227.0,192.54 L228.0,193.56 L229.0,194.55 L230.0,195.53 L231.0,196.49 L232.0,197.42 L233.0,198.33 L234.0,199.22 L235.0,200.08 L236.0,200.92 L237.0,201.74 L238.0,202.54 L239.0,203.32 L240.0,204.08 L241.0,204.82 L242.0,205.54 L243.0,206.24 L244.0,206.92 L245.0,207.58 L246.0,208.23 L247.0,208.86 L248.0,209.47 L249.0,210.07 L250.0,210.65 L251.0,211.22 L252.0,211.77 L253.0,212.31 L254.0,212.83 L255.0,213.35 L256.0,213.84 L257.0,214.33 L258.0,214.80 L259.0,215.27 L260.0,215.72 L261.0,216.16 L262.0,216.59 L263.0,217.02 L264.0,217.43 L265.0,217.84 L266.0,218.23 L267.0,218.62 L268.0,219.00 L269.0,219.38 L270.0,219.74 L271.0,220.09 L272.0,220.44 L273.0,220.78 L274.0,221.11 L275.0,221.44 L276.0,221.75 L277.0,222.06 L278.0,222.36 L279.0,222.66 L280.0,222.94 L281.0,223.22 L282.0,223.50 L283.0,223.76 L284.0,224.02 L285.0,224.27 L286.0,224.52 L287.0,224.76 L288.0,224.99 L289.0,225.21 L290.0,225.43 L291.0,225.64 L292.0,225.85 L293.0,226.05 L294.0,226.25 L295.0,226.44 L296.0,226.62 L297.0,226.80 L298.0,226.97 L299.0,227.13 L300.0,227.30 L301.0,227.45 L302.0,227.60 L303.0,227.75 L304.0,227.89 L305.0,228.03 L306.0,228.16 L307.0,228.28 L308.0,228.41 L309.0,228.52 L310.0,228.64 L311.0,228.75 L312.0,228.85 L313.0,228.95 L314.0,229.05 L315.0,229.14 L316.0,229.23 L317.0,229.32 L318.0,229.40 L319.0,229.48 L320.0,229.55 L321.0,229.63 L322.0,229.70 L323.0,229.76 L324.0,229.83 L325.0,229.89 L326.0,229.94 L327.0,230.00 L328.0,230.05 L329.0,230.10 L330.0,230.15 L331.0,230.20 L332.0,230.24 L333.0,230.28 L334.0,230.32 L335.0,230.36 L336.0,230.40 L337.0,230.43 L338.0,230.46 L339.0,230.50 L340.0,230.53 L341.0,230.56 L342.0,230.58 L343.0,230.61 L344.0,230.64 L345.0,230.66 L346.0,230.69" fill="none" stroke="#7d4f50" stroke-width="1.8" stroke-linejoin="round"/>
<path d="M63.0,231.59 L64.0,231.53 L65.0,231.49 L66.0,231.45 L67.0,231.41 L68.0,231.38 L69.0,231.33 L70.0,231.28 L71.0,231.22 L72.0,231.14 L73.0,231.03 L74.0,230.90 L75.0,230.73 L76.0,230.53 L77.0,230.29 L78.0,230.00 L79.0,229.66 L80.0,229.27 L81.0,228.82 L82.0,228.31 L83.0,227.73 L84.0,227.07 L85.0,226.34 L86.0,225.53 L87.0,224.64 L88.0,223.65 L89.0,222.57 L90.0,221.39 L91.0,220.11 L92.0,218.72 L93.0,217.22 L94.0,215.60 L95.0,213.86 L96.0,211.99 L97.0,210.00 L98.0,207.87 L99.0,205.60 L100.0,203.18 L101.0,200.62 L102.0,197.91 L103.0,195.04 L104.0,192.01 L105.0,188.82 L106.0,185.51 L107.0,182.13 L108.0,178.75 L109.0,175.39 L110.0,172.06 L111.0,168.74 L112.0,165.44 L113.0,162.16 L114.0,158.90 L115.0,155.66 L116.0,152.45 L117.0,149.26 L118.0,146.11 L119.0,142.98 L120.0,139.89 L121.0,136.83 L122.0,133.82 L123.0,130.84 L124.0,127.91 L125.0,125.02 L126.0,122.18 L127.0,119.39 L128.0,116.66 L129.0,113.97 L130.0,111.35 L131.0,108.78 L132.0,106.28 L133.0,103.84 L134.0,101.48 L135.0,99.20 L136.0,97.01 L137.0,94.91 L138.0,92.91 L139.0,91.02 L140.0,89.24 L141.0,87.58 L142.0,86.04 L143.0,84.64 L144.0,83.37 L145.0,82.25 L146.0,81.27 L147.0,80.44 L148.0,79.75 L149.0,79.19 L150.0,78.77 L151.0,78.49 L152.0,78.33 L153.0,78.30 L154.0,78.40 L155.0,78.64 L156.0,79.00 L157.0,79.49 L158.0,80.09 L159.0,80.81 L160.0,81.64 L161.0,82.57 L162.0,83.60 L163.0,84.71 L164.0,85.89 L165.0,87.15 L166.0,88.46 L167.0,89.83 L168.0,91.24 L169.0,92.70 L170.0,94.18 L171.0,95.68 L172.0,97.20 L173.0,98.73 L174.0,100.26 L175.0,101.80 L176.0,103.35 L177.0,104.90 L178.0,106.46 L179.0,108.03 L180.0,109.61 L181.0,111.19 L182.0,112.78 L183.0,114.38 L184.0,115.99 L185.0,117.60 L186.0,119.23 L187.0,120.87 L188.0,122.51 L189.0,124.17 L190.0,125.83 L191.0,127.50 L192.0,129.18 L193.0,130.86 L194.0,132.54 L195.0,134.23 L196.0,135.92 L197.0,137.61 L198.0,139.31 L199.0,141.00 L200.0,142.69 L201.0,144.37 L202.0,146.06 L203.0,147.74 L204.0,149.41 L205.0,151.08 L206.0,152.73 L207.0,154.38 L208.0,156.02 L209.0,157.65 L210.0,159.27 L211.0,160.87 L212.0,162.46 L213.0,164.04 L214.0,165.60 L215.0,167.14 L216.0,168.66 L217.0,170.17 L218.0,171.66 L219.0,173.12 L220.0,174.57 L221.0,175.99 L222.0,177.40 L223.0,178.78 L224.0,180.13 L225.0,181.47 L226.0,182.78 L227.0,184.06 L228.0,185.32 L229.0,186.56 L230.0,187.77 L231.0,188.95 L232.0,190.10 L233.0,191.22 L234.0,192.32 L235.0,193.38 L236.0,194.42 L237.0,195.43 L238.0,196.42 L239.0,197.37 L240.0,198.31 L241.0,199.21 L242.0,200.09 L243.0,200.95 L244.0,201.79 L245.0,202.60 L246.0,203.39 L247.0,204.16 L248.0,204.90 L249.0,205.63 L250.0,206.34 L251.0,207.03 L252.0,207.70 L253.0,208.35 L254.0,208.99 L255.0,209.61 L256.0,210.21 L257.0,210.80 L258.0,211.37 L259.0,211.93 L260.0,212.48 L261.0,213.01 L262.0,213.53 L263.0,214.04 L264.0,214.54 L265.0,215.02 L266.0,215.50 L267.0,215.97 L268.0,216.42 L269.0,216.87 L270.0,217.31 L271.0,217.73 L272.0,218.15 L273.0,218.56 L274.0,218.95 L275.0,219.34 L276.0,219.72 L277.0,220.09 L278.0,220.45 L279.0,220.80 L280.0,221.14 L281.0,221.48 L282.0,221.80 L283.0,222.12 L284.0,222.43 L285.0,222.73 L286.0,223.02 L287.0,223.31 L288.0,223.58 L289.0,223.85 L290.0,224.11 L291.0,224.37 L292.0,224.61 L293.0,224.85 L294.0,225.08 L295.0,225.31 L296.0,225.53 L297.0,225.74 L298.0,225.94 L299.0,226.14 L300.0,226.33 L301.0,226.52 L302.0,226.70 L303.0,226.87 L304.0,227.04 L305.0,227.20 L306.0,227.36 L307.0,227.51 L308.0,227.65 L309.0,227.79 L310.0,227.93 L311.0,228.06 L312.0,228.18 L313.0,228.30 L314.0,228.41 L315.0,228.53 L316.0,228.63 L317.0,228.73 L318.0,228.83 L319.0,228.92 L320.0,229.01 L321.0,229.10 L322.0,229.18 L323.0,229.26 L324.0,229.34 L325.0,229.41 L326.0,229.48 L327.0,229.54 L328.0,229.60 L329.0,229.66 L330.0,229.72 L331.0,229.78 L332.0,229.83 L333.0,229.88 L334.0,229.92 L335.0,229.97 L336.0,230.01 L337.0,230.05 L338.0,230.09 L339.0,230.13 L340.0,230.17 L341.0,230.20 L342.0,230.24 L343.0,230.27 L344.0,230.30 L345.0,230.33 L346.0,230.36" fill="none" stroke="#8d9a14" stroke-width="1.8" stroke-linejoin="round"/>
<path d="M63.0,231.41 L64.0,231.34 L65.0,231.28 L66.0,231.24 L67.0,231.20 L68.0,231.15 L69.0,231.10 L70.0,231.04 L71.0,230.97 L72.0,230.87 L73.0,230.74 L74.0,230.58 L75.0,230.38 L76.0,230.14 L77.0,229.85 L78.0,229.51 L79.0,229.10 L80.0,228.63 L81.0,228.09 L82.0,227.48 L83.0,226.78 L84.0,226.00 L85.0,225.13 L86.0,224.16 L87.0,223.08 L88.0,221.90 L89.0,220.61 L90.0,219.20 L91.0,217.66 L92.0,215.99 L93.0,214.19 L94.0,212.25 L95.0,210.17 L96.0,207.94 L97.0,205.54 L98.0,202.99 L99.0,200.28 L100.0,197.39 L101.0,194.32 L102.0,191.07 L103.0,187.63 L104.0,184.00 L105.0,180.18 L106.0,176.21 L107.0,172.17 L108.0,168.12 L109.0,164.10 L110.0,160.10 L111.0,156.13 L112.0,152.18 L113.0,148.25 L114.0,144.34 L115.0,140.46 L116.0,136.62 L117.0,132.80 L118.0,129.02 L119.0,125.27 L120.0,121.57 L121.0,117.91 L122.0,114.30 L123.0,110.73 L124.0,107.22 L125.0,103.76 L126.0,100.36 L127.0,97.02 L128.0,93.74 L129.0,90.53 L130.0,87.38 L131.0,84.31 L132.0,81.31 L133.0,78.39 L134.0,75.56 L135.0,72.83 L136.0,70.21 L137.0,67.69 L138.0,65.30 L139.0,63.03 L140.0,60.90 L141.0,58.91 L142.0,57.07 L143.0,55.39 L144.0,53.87 L145.0,52.53 L146.0,51.36 L147.0,50.36 L148.0,49.53 L149.0,48.87 L150.0,48.37 L151.0,48.02 L152.0,47.84 L153.0,47.80 L154.0,47.91 L155.0,48.17 L156.0,48.57 L157.0,49.11 L158.0,49.78 L159.0,50.59 L160.0,51.53 L161.0,52.58 L162.0,53.75 L163.0,55.02 L164.0,56.38 L165.0,57.83 L166.0,59.36 L167.0,60.95 L168.0,62.60 L169.0,64.31 L170.0,66.05 L171.0,67.83 L172.0,69.63 L173.0,71.45 L174.0,73.28 L175.0,75.11 L176.0,76.96 L177.0,78.81 L178.0,80.67 L179.0,82.55 L180.0,84.43 L181.0,86.32 L182.0,88.23 L183.0,90.14 L184.0,92.07 L185.0,94.01 L186.0,95.96 L187.0,97.92 L188.0,99.90 L189.0,101.89 L190.0,103.88 L191.0,105.89 L192.0,107.91 L193.0,109.93 L194.0,111.96 L195.0,114.00 L196.0,116.03 L197.0,118.07 L198.0,120.11 L199.0,122.15 L200.0,124.19 L201.0,126.23 L202.0,128.26 L203.0,130.29 L204.0,132.31 L205.0,134.32 L206.0,136.32 L207.0,138.31 L208.0,140.30 L209.0,142.26 L210.0,144.22 L211.0,146.16 L212.0,148.08 L213.0,149.98 L214.0,151.87 L215.0,153.73 L216.0,155.58 L217.0,157.40 L218.0,159.19 L219.0,160.97 L220.0,162.71 L221.0,164.44 L222.0,166.13 L223.0,167.80 L224.0,169.44 L225.0,171.05 L226.0,172.64 L227.0,174.19 L228.0,175.71 L229.0,177.21 L230.0,178.66 L231.0,180.09 L232.0,181.48 L233.0,182.84 L234.0,184.17 L235.0,185.45 L236.0,186.71 L237.0,187.93 L238.0,189.12 L239.0,190.27 L240.0,191.40 L241.0,192.49 L242.0,193.55 L243.0,194.59 L244.0,195.59 L245.0,196.57 L246.0,197.53 L247.0,198.45 L248.0,199.35 L249.0,200.23 L250.0,201.08 L251.0,201.91 L252.0,202.72 L253.0,203.51 L254.0,204.27 L255.0,205.02 L256.0,205.74 L257.0,206.45 L258.0,207.14 L259.0,207.81 L260.0,208.47 L261.0,209.11 L262.0,209.73 L263.0,210.35 L264.0,210.94 L265.0,211.53 L266.0,212.10 L267.0,212.66 L268.0,213.21 L269.0,213.75 L270.0,214.27 L271.0,214.78 L272.0,215.28 L273.0,215.77 L274.0,216.25 L275.0,216.72 L276.0,217.17 L277.0,217.61 L278.0,218.05 L279.0,218.47 L280.0,218.88 L281.0,219.28 L282.0,219.67 L283.0,220.05 L284.0,220.42 L285.0,220.78 L286.0,221.13 L287.0,221.48 L288.0,221.81 L289.0,222.13 L290.0,222.44 L291.0,222.75 L292.0,223.04 L293.0,223.33 L294.0,223.61 L295.0,223.88 L296.0,224.14 L297.0,224.39 L298.0,224.64 L299.0,224.88 L300.0,225.11 L301.0,225.33 L302.0,225.54 L303.0,225.75 L304.0,225.95 L305.0,226.15 L306.0,226.33 L307.0,226.52 L308.0,226.69 L309.0,226.86 L310.0,227.02 L311.0,227.17 L312.0,227.32 L313.0,227.47 L314.0,227.61 L315.0,227.74 L316.0,227.87 L317.0,227.99 L318.0,228.10 L319.0,228.22 L320.0,228.32 L321.0,228.43 L322.0,228.53 L323.0,228.62 L324.0,228.71 L325.0,228.80 L326.0,228.88 L327.0,228.96 L328.0,229.03 L329.0,229.10 L330.0,229.17 L331.0,229.24 L332.0,229.30 L333.0,229.36 L334.0,229.41 L335.0,229.47 L336.0,229.52 L337.0,229.57 L338.0,229.62 L339.0,229.66 L340.0,229.71 L341.0,229.75 L342.0,229.79 L343.0,229.83 L344.0,229.86 L345.0,229.90 L346.0,229.94" fill="none" stroke="#ff6216" stroke-width="1.8" stroke-linejoin="round"/>
<path d="M63.0,231.34 L64.0,231.26 L65.0,231.20 L66.0,231.15 L67.0,231.11 L68.0,231.06 L69.0,231.01 L70.0,230.95 L71.0,230.87 L72.0,230.76 L73.0,230.62 L74.0,230.45 L75.0,230.24 L76.0,229.99 L77.0,229.68 L78.0,229.31 L79.0,228.88 L80.0,228.38 L81.0,227.81 L82.0,227.15 L83.0,226.41 L84.0,225.58 L85.0,224.64 L86.0,223.61 L87.0,222.47 L88.0,221.21 L89.0,219.83 L90.0,218.32 L91.0,216.69 L92.0,214.91 L93.0,212.99 L94.0,210.93 L95.0,208.71 L96.0,206.33 L97.0,203.78 L98.0,201.06 L99.0,198.16 L100.0,195.09 L101.0,191.82 L102.0,188.36 L103.0,184.69 L104.0,180.83 L105.0,176.75 L106.0,172.52 L107.0,168.21 L108.0,163.90 L109.0,159.62 L110.0,155.36 L111.0,151.13 L112.0,146.92 L113.0,142.73 L114.0,138.57 L115.0,134.44 L116.0,130.33 L117.0,126.27 L118.0,122.24 L119.0,118.25 L120.0,114.30 L121.0,110.41 L122.0,106.56 L123.0,102.76 L124.0,99.01 L125.0,95.33 L126.0,91.71 L127.0,88.15 L128.0,84.65 L129.0,81.23 L130.0,77.88 L131.0,74.60 L132.0,71.40 L133.0,68.30 L134.0,65.28 L135.0,62.37 L136.0,59.57 L137.0,56.90 L138.0,54.34 L139.0,51.93 L140.0,49.66 L141.0,47.54 L142.0,45.58 L143.0,43.79 L144.0,42.17 L145.0,40.74 L146.0,39.49 L147.0,38.43 L148.0,37.55 L149.0,36.84 L150.0,36.31 L151.0,35.94 L152.0,35.74 L153.0,35.70 L154.0,35.82 L155.0,36.09 L156.0,36.52 L157.0,37.09 L158.0,37.81 L159.0,38.67 L160.0,39.67 L161.0,40.79 L162.0,42.04 L163.0,43.39 L164.0,44.84 L165.0,46.39 L166.0,48.01 L167.0,49.71 L168.0,51.47 L169.0,53.29 L170.0,55.15 L171.0,57.04 L172.0,58.96 L173.0,60.90 L174.0,62.84 L175.0,64.80 L176.0,66.77 L177.0,68.74 L178.0,70.73 L179.0,72.72 L180.0,74.73 L181.0,76.75 L182.0,78.78 L183.0,80.82 L184.0,82.87 L185.0,84.94 L186.0,87.02 L187.0,89.11 L188.0,91.21 L189.0,93.33 L190.0,95.46 L191.0,97.60 L192.0,99.75 L193.0,101.90 L194.0,104.07 L195.0,106.23 L196.0,108.40 L197.0,110.58 L198.0,112.75 L199.0,114.93 L200.0,117.10 L201.0,119.27 L202.0,121.43 L203.0,123.59 L204.0,125.74 L205.0,127.89 L206.0,130.02 L207.0,132.14 L208.0,134.26 L209.0,136.35 L210.0,138.43 L211.0,140.50 L212.0,142.55 L213.0,144.58 L214.0,146.59 L215.0,148.57 L216.0,150.54 L217.0,152.48 L218.0,154.39 L219.0,156.28 L220.0,158.14 L221.0,159.98 L222.0,161.78 L223.0,163.56 L224.0,165.31 L225.0,167.03 L226.0,168.72 L227.0,170.37 L228.0,171.99 L229.0,173.58 L230.0,175.14 L231.0,176.66 L232.0,178.14 L233.0,179.59 L234.0,181.00 L235.0,182.37 L236.0,183.71 L237.0,185.01 L238.0,186.27 L239.0,187.50 L240.0,188.70 L241.0,189.87 L242.0,191.00 L243.0,192.10 L244.0,193.18 L245.0,194.22 L246.0,195.23 L247.0,196.22 L248.0,197.18 L249.0,198.12 L250.0,199.02 L251.0,199.91 L252.0,200.77 L253.0,201.61 L254.0,202.42 L255.0,203.21 L256.0,203.99 L257.0,204.74 L258.0,205.48 L259.0,206.19 L260.0,206.89 L261.0,207.57 L262.0,208.24 L263.0,208.89 L264.0,209.53 L265.0,210.16 L266.0,210.77 L267.0,211.36 L268.0,211.95 L269.0,212.52 L270.0,213.08 L271.0,213.62 L272.0,214.16 L273.0,214.68 L274.0,215.19 L275.0,215.68 L276.0,216.17 L277.0,216.64 L278.0,217.10 L279.0,217.55 L280.0,217.99 L281.0,218.42 L282.0,218.83 L283.0,219.24 L284.0,219.63 L285.0,220.02 L286.0,220.39 L287.0,220.75 L288.0,221.11 L289.0,221.45 L290.0,221.78 L291.0,222.11 L292.0,222.42 L293.0,222.73 L294.0,223.03 L295.0,223.31 L296.0,223.59 L297.0,223.86 L298.0,224.12 L299.0,224.38 L300.0,224.62 L301.0,224.86 L302.0,225.09 L303.0,225.31 L304.0,225.52 L305.0,225.73 L306.0,225.93 L307.0,226.12 L308.0,226.31 L309.0,226.49 L310.0,226.66 L311.0,226.82 L312.0,226.98 L313.0,227.14 L314.0,227.28 L315.0,227.43 L316.0,227.56 L317.0,227.69 L318.0,227.82 L319.0,227.94 L320.0,228.05 L321.0,228.16 L322.0,228.26 L323.0,228.37 L324.0,228.46 L325.0,228.55 L326.0,228.64 L327.0,228.72 L328.0,228.80 L329.0,228.88 L330.0,228.95 L331.0,229.02 L332.0,229.09 L333.0,229.15 L334.0,229.21 L335.0,229.27 L336.0,229.32 L337.0,229.38 L338.0,229.43 L339.0,229.48 L340.0,229.52 L341.0,229.57 L342.0,229.61 L343.0,229.65 L344.0,229.69 L345.0,229.73 L346.0,229.77" fill="none" stroke="#5b9bd5" stroke-width="1.8" stroke-linejoin="round"/>
</g>
<defs><clipPath id="cl"><rect x="62.75" y="5.5" width="284" height="227"/></clipPath></defs>
<rect x="63.2" y="5.5" width="283.40000000000003" height="227.0" fill="none" stroke="#1a1a1a" stroke-width="1.3"/>
<line x1="58.90" y1="232.50" x2="63.20" y2="232.50" stroke="#1a1a1a" stroke-width="1.3"/>
<line x1="60.90" y1="215.04" x2="63.20" y2="215.04" stroke="#1a1a1a" stroke-width="1.3"/>
<line x1="58.90" y1="197.58" x2="63.20" y2="197.58" stroke="#1a1a1a" stroke-width="1.3"/>
<line x1="60.90" y1="180.12" x2="63.20" y2="180.12" stroke="#1a1a1a" stroke-width="1.3"/>
<line x1="58.90" y1="162.67" x2="63.20" y2="162.67" stroke="#1a1a1a" stroke-width="1.3"/>
<line x1="60.90" y1="145.21" x2="63.20" y2="145.21" stroke="#1a1a1a" stroke-width="1.3"/>
<line x1="58.90" y1="127.75" x2="63.20" y2="127.75" stroke="#1a1a1a" stroke-width="1.3"/>
<line x1="60.90" y1="110.29" x2="63.20" y2="110.29" stroke="#1a1a1a" stroke-width="1.3"/>
<line x1="58.90" y1="92.83" x2="63.20" y2="92.83" stroke="#1a1a1a" stroke-width="1.3"/>
<line x1="60.90" y1="75.38" x2="63.20" y2="75.38" stroke="#1a1a1a" stroke-width="1.3"/>
<line x1="58.90" y1="57.92" x2="63.20" y2="57.92" stroke="#1a1a1a" stroke-width="1.3"/>
<line x1="60.90" y1="40.46" x2="63.20" y2="40.46" stroke="#1a1a1a" stroke-width="1.3"/>
<line x1="58.90" y1="23.00" x2="63.20" y2="23.00" stroke="#1a1a1a" stroke-width="1.3"/>
<line x1="60.90" y1="5.54" x2="63.20" y2="5.54" stroke="#1a1a1a" stroke-width="1.3"/>
<line x1="67.65" y1="232.50" x2="67.65" y2="235.00" stroke="#1a1a1a" stroke-width="1.3"/>
<line x1="93.00" y1="232.50" x2="93.00" y2="236.70" stroke="#1a1a1a" stroke-width="1.3"/>
<line x1="118.35" y1="232.50" x2="118.35" y2="235.00" stroke="#1a1a1a" stroke-width="1.3"/>
<line x1="143.70" y1="232.50" x2="143.70" y2="236.70" stroke="#1a1a1a" stroke-width="1.3"/>
<line x1="169.05" y1="232.50" x2="169.05" y2="235.00" stroke="#1a1a1a" stroke-width="1.3"/>
<line x1="194.40" y1="232.50" x2="194.40" y2="236.70" stroke="#1a1a1a" stroke-width="1.3"/>
<line x1="219.75" y1="232.50" x2="219.75" y2="235.00" stroke="#1a1a1a" stroke-width="1.3"/>
<line x1="245.10" y1="232.50" x2="245.10" y2="236.70" stroke="#1a1a1a" stroke-width="1.3"/>
<line x1="270.45" y1="232.50" x2="270.45" y2="235.00" stroke="#1a1a1a" stroke-width="1.3"/>
<line x1="295.80" y1="232.50" x2="295.80" y2="236.70" stroke="#1a1a1a" stroke-width="1.3"/>
<line x1="321.15" y1="232.50" x2="321.15" y2="235.00" stroke="#1a1a1a" stroke-width="1.3"/>
<line x1="346.50" y1="232.50" x2="346.50" y2="236.70" stroke="#1a1a1a" stroke-width="1.3"/>
<rect x="389.5" y="5.4" width="282.79999999999995" height="227.0" fill="none" stroke="#1a1a1a" stroke-width="1.3"/>
<line x1="387.20" y1="231.93" x2="389.50" y2="231.93" stroke="#1a1a1a" stroke-width="1.3"/>
<line x1="385.20" y1="214.50" x2="389.50" y2="214.50" stroke="#1a1a1a" stroke-width="1.3"/>
<line x1="387.20" y1="197.07" x2="389.50" y2="197.07" stroke="#1a1a1a" stroke-width="1.3"/>
<line x1="385.20" y1="179.63" x2="389.50" y2="179.63" stroke="#1a1a1a" stroke-width="1.3"/>
<line x1="387.20" y1="162.20" x2="389.50" y2="162.20" stroke="#1a1a1a" stroke-width="1.3"/>
<line x1="385.20" y1="144.77" x2="389.50" y2="144.77" stroke="#1a1a1a" stroke-width="1.3"/>
<line x1="387.20" y1="127.34" x2="389.50" y2="127.34" stroke="#1a1a1a" stroke-width="1.3"/>
<line x1="385.20" y1="109.91" x2="389.50" y2="109.91" stroke="#1a1a1a" stroke-width="1.3"/>
<line x1="387.20" y1="92.47" x2="389.50" y2="92.47" stroke="#1a1a1a" stroke-width="1.3"/>
<line x1="385.20" y1="75.04" x2="389.50" y2="75.04" stroke="#1a1a1a" stroke-width="1.3"/>
<line x1="387.20" y1="57.61" x2="389.50" y2="57.61" stroke="#1a1a1a" stroke-width="1.3"/>
<line x1="385.20" y1="40.17" x2="389.50" y2="40.17" stroke="#1a1a1a" stroke-width="1.3"/>
<line x1="387.20" y1="22.74" x2="389.50" y2="22.74" stroke="#1a1a1a" stroke-width="1.3"/>
<line x1="385.20" y1="5.31" x2="389.50" y2="5.31" stroke="#1a1a1a" stroke-width="1.3"/>
<line x1="389.50" y1="232.40" x2="389.50" y2="234.90" stroke="#1a1a1a" stroke-width="1.3"/>
<line x1="411.25" y1="232.40" x2="411.25" y2="236.40" stroke="#1a1a1a" stroke-width="1.3"/>
<line x1="433.00" y1="232.40" x2="433.00" y2="234.90" stroke="#1a1a1a" stroke-width="1.3"/>
<line x1="454.75" y1="232.40" x2="454.75" y2="236.40" stroke="#1a1a1a" stroke-width="1.3"/>
<line x1="476.50" y1="232.40" x2="476.50" y2="234.90" stroke="#1a1a1a" stroke-width="1.3"/>
<line x1="498.25" y1="232.40" x2="498.25" y2="236.40" stroke="#1a1a1a" stroke-width="1.3"/>
<line x1="520.00" y1="232.40" x2="520.00" y2="234.90" stroke="#1a1a1a" stroke-width="1.3"/>
<line x1="541.75" y1="232.40" x2="541.75" y2="236.40" stroke="#1a1a1a" stroke-width="1.3"/>
<line x1="563.50" y1="232.40" x2="563.50" y2="234.90" stroke="#1a1a1a" stroke-width="1.3"/>
<line x1="585.25" y1="232.40" x2="585.25" y2="236.40" stroke="#1a1a1a" stroke-width="1.3"/>
<line x1="607.00" y1="232.40" x2="607.00" y2="234.90" stroke="#1a1a1a" stroke-width="1.3"/>
<line x1="628.75" y1="232.40" x2="628.75" y2="236.40" stroke="#1a1a1a" stroke-width="1.3"/>
<line x1="650.50" y1="232.40" x2="650.50" y2="234.90" stroke="#1a1a1a" stroke-width="1.3"/>
<line x1="672.25" y1="232.40" x2="672.25" y2="236.40" stroke="#1a1a1a" stroke-width="1.3"/>
<line x1="419.6" y1="206.2" x2="646.3" y2="23.1" stroke="#ff0a0a" stroke-width="1.8"/>
<rect x="416.90" y="200.65" width="6.2" height="6.2" fill="#000"/>
<rect x="427.80" y="192.20" width="6.2" height="6.2" fill="#000"/>
<rect x="440.90" y="180.50" width="6.2" height="6.2" fill="#000"/>
<rect x="458.80" y="167.90" width="6.2" height="6.2" fill="#000"/>
<rect x="481.50" y="152.10" width="6.2" height="6.2" fill="#000"/>
<rect x="514.00" y="131.20" width="6.2" height="6.2" fill="#000"/>
<rect x="562.20" y="79.65" width="6.2" height="6.2" fill="#000"/>
<rect x="643.20" y="19.60" width="6.2" height="6.2" fill="#000"/>
<line x1="419.6" y1="206.2" x2="646.3" y2="23.1" stroke="#ff0a0a" stroke-width="1.8"/>
<line x1="156" y1="36.2" x2="188" y2="36.2" stroke="#111" stroke-width="1.1"/>
<path d="M186,34.6 L192.5,36.2 L186,37.8 Z" fill="#111"/>
<line x1="249" y1="94" x2="249" y2="173" stroke="#555" stroke-width="1.5"/>
<path d="M247,172 L251,172 L249,179 Z" fill="#444"/>
<text x="54.60" y="236.50" font-size="10.5" font-family="Liberation Sans" font-weight="bold" fill="#1a1a1a" stroke="#1a1a1a" stroke-width="0.45" text-anchor="end" >0.0</text>
<text x="50.80" y="201.68" font-size="10.6" font-family="Liberation Sans" font-weight="bold" fill="#1a1a1a" stroke="#1a1a1a" stroke-width="0.45" text-anchor="end" >2.0&#215;10</text>
<text x="51.60" y="197.08" font-size="6.4" font-family="Liberation Sans" font-weight="bold" fill="#1a1a1a" stroke="#1a1a1a" stroke-width="0.45" text-anchor="start" >5</text>
<text x="50.80" y="166.77" font-size="10.6" font-family="Liberation Sans" font-weight="bold" fill="#1a1a1a" stroke="#1a1a1a" stroke-width="0.45" text-anchor="end" >4.0&#215;10</text>
<text x="51.60" y="162.17" font-size="6.4" font-family="Liberation Sans" font-weight="bold" fill="#1a1a1a" stroke="#1a1a1a" stroke-width="0.45" text-anchor="start" >5</text>
<text x="50.80" y="131.85" font-size="10.6" font-family="Liberation Sans" font-weight="bold" fill="#1a1a1a" stroke="#1a1a1a" stroke-width="0.45" text-anchor="end" >6.0&#215;10</text>
<text x="51.60" y="127.25" font-size="6.4" font-family="Liberation Sans" font-weight="bold" fill="#1a1a1a" stroke="#1a1a1a" stroke-width="0.45" text-anchor="start" >5</text>
<text x="50.80" y="96.93" font-size="10.6" font-family="Liberation Sans" font-weight="bold" fill="#1a1a1a" stroke="#1a1a1a" stroke-width="0.45" text-anchor="end" >8.0&#215;10</text>
<text x="51.60" y="92.33" font-size="6.4" font-family="Liberation Sans" font-weight="bold" fill="#1a1a1a" stroke="#1a1a1a" stroke-width="0.45" text-anchor="start" >5</text>
<text x="50.80" y="62.02" font-size="10.6" font-family="Liberation Sans" font-weight="bold" fill="#1a1a1a" stroke="#1a1a1a" stroke-width="0.45" text-anchor="end" >1.0&#215;10</text>
<text x="51.60" y="57.42" font-size="6.4" font-family="Liberation Sans" font-weight="bold" fill="#1a1a1a" stroke="#1a1a1a" stroke-width="0.45" text-anchor="start" >6</text>
<text x="50.80" y="27.10" font-size="10.6" font-family="Liberation Sans" font-weight="bold" fill="#1a1a1a" stroke="#1a1a1a" stroke-width="0.45" text-anchor="end" >1.2&#215;10</text>
<text x="51.60" y="22.50" font-size="6.4" font-family="Liberation Sans" font-weight="bold" fill="#1a1a1a" stroke="#1a1a1a" stroke-width="0.45" text-anchor="start" >6</text>
<text x="92.60" y="247.90" font-size="10.5" font-family="Liberation Sans" fill="#1a1a1a" stroke="#1a1a1a" stroke-width="0.5" text-anchor="middle" >400</text>
<text x="143.30" y="247.90" font-size="10.5" font-family="Liberation Sans" fill="#1a1a1a" stroke="#1a1a1a" stroke-width="0.5" text-anchor="middle" >450</text>
<text x="194.00" y="247.90" font-size="10.5" font-family="Liberation Sans" fill="#1a1a1a" stroke="#1a1a1a" stroke-width="0.5" text-anchor="middle" >500</text>
<text x="244.70" y="247.90" font-size="10.5" font-family="Liberation Sans" fill="#1a1a1a" stroke="#1a1a1a" stroke-width="0.5" text-anchor="middle" >550</text>
<text x="295.40" y="247.90" font-size="10.5" font-family="Liberation Sans" fill="#1a1a1a" stroke="#1a1a1a" stroke-width="0.5" text-anchor="middle" >600</text>
<text x="346.10" y="247.90" font-size="10.5" font-family="Liberation Sans" fill="#1a1a1a" stroke="#1a1a1a" stroke-width="0.5" text-anchor="middle" >650</text>
<text x="380.90" y="217.70" font-size="10.3" font-family="Liberation Sans" fill="#1a1a1a" stroke="#1a1a1a" stroke-width="0.5" text-anchor="end" >1.0</text>
<text x="380.90" y="182.83" font-size="10.3" font-family="Liberation Sans" fill="#1a1a1a" stroke="#1a1a1a" stroke-width="0.5" text-anchor="end" >1.5</text>
<text x="380.90" y="147.97" font-size="10.3" font-family="Liberation Sans" fill="#1a1a1a" stroke="#1a1a1a" stroke-width="0.5" text-anchor="end" >2.0</text>
<text x="380.90" y="113.11" font-size="10.3" font-family="Liberation Sans" fill="#1a1a1a" stroke="#1a1a1a" stroke-width="0.5" text-anchor="end" >2.5</text>
<text x="380.90" y="78.24" font-size="10.3" font-family="Liberation Sans" fill="#1a1a1a" stroke="#1a1a1a" stroke-width="0.5" text-anchor="end" >3.0</text>
<text x="380.90" y="43.37" font-size="10.3" font-family="Liberation Sans" fill="#1a1a1a" stroke="#1a1a1a" stroke-width="0.5" text-anchor="end" >3.5</text>
<text x="380.90" y="8.51" font-size="10.3" font-family="Liberation Sans" fill="#1a1a1a" stroke="#1a1a1a" stroke-width="0.5" text-anchor="end" >4.0</text>
<text x="410.95" y="247.70" font-size="10.4" font-family="Liberation Sans" fill="#1a1a1a" stroke="#1a1a1a" stroke-width="0.5" text-anchor="middle" >0.010</text>
<text x="454.45" y="247.70" font-size="10.4" font-family="Liberation Sans" fill="#1a1a1a" stroke="#1a1a1a" stroke-width="0.5" text-anchor="middle" >0.015</text>
<text x="497.95" y="247.70" font-size="10.4" font-family="Liberation Sans" fill="#1a1a1a" stroke="#1a1a1a" stroke-width="0.5" text-anchor="middle" >0.020</text>
<text x="541.45" y="247.70" font-size="10.4" font-family="Liberation Sans" fill="#1a1a1a" stroke="#1a1a1a" stroke-width="0.5" text-anchor="middle" >0.025</text>
<text x="584.95" y="247.70" font-size="10.4" font-family="Liberation Sans" fill="#1a1a1a" stroke="#1a1a1a" stroke-width="0.5" text-anchor="middle" >0.030</text>
<text x="628.45" y="247.70" font-size="10.4" font-family="Liberation Sans" fill="#1a1a1a" stroke="#1a1a1a" stroke-width="0.5" text-anchor="middle" >0.035</text>
<text x="671.95" y="247.70" font-size="10.4" font-family="Liberation Sans" fill="#1a1a1a" stroke="#1a1a1a" stroke-width="0.5" text-anchor="middle" >0.040</text>
<text x="139.40" y="264.20" font-size="14.4" font-family="Liberation Sans" font-weight="bold" fill="#1a1a1a" stroke="#1a1a1a" stroke-width="0.15" text-anchor="start" textLength="113.6">Wavelength (nm)</text>
<text transform="translate(10.9,205.6) rotate(-90)" font-size="13.8" font-family="Liberation Sans" font-weight="bold" fill="#1a1a1a" stroke="#1a1a1a" stroke-width="0.15" textLength="177">Fluoescence Intensity (a.u)</text>
<text transform="translate(357.6,114.2) rotate(-90)" font-size="10" font-family="Liberation Sans" fill="#1a1a1a" textLength="36.3">F<tspan font-size="6.8" dy="2">0</tspan><tspan dy="-2">/F</tspan><tspan font-size="6.8" dy="2">0</tspan><tspan dy="-2">-F</tspan></text>
<text x="494.20" y="263.40" font-size="11.5" font-family="Liberation Sans" font-weight="bold" fill="#1a1a1a" stroke="#1a1a1a" stroke-width="0.45" text-anchor="start" >1</text>
<text x="499.00" y="263.40" font-size="11.5" font-family="Liberation Sans" fill="#1a1a1a" stroke="#1a1a1a" stroke-width="0.2" text-anchor="start" >/</text>
<text x="504.20" y="263.40" font-size="11.5" font-family="Liberation Sans" fill="#1a1a1a" stroke="#1a1a1a" stroke-width="0.45" text-anchor="start" >[</text>
<text x="507.40" y="263.40" font-size="11.5" font-family="Liberation Sans" fill="#1a1a1a" stroke="#1a1a1a" stroke-width="0.45" text-anchor="start" >C</text>
<text x="516.00" y="263.40" font-size="11.5" font-family="Liberation Sans" fill="#1a1a1a" stroke="#1a1a1a" stroke-width="0.45" text-anchor="start" >o</text>
<text x="522.20" y="258.80" font-size="7" font-family="Liberation Sans" fill="#1a1a1a" stroke="#1a1a1a" stroke-width="0.35" text-anchor="start" >2</text>
<text x="527.20" y="258.80" font-size="7" font-family="Liberation Sans" fill="#1a1a1a" stroke="#1a1a1a" stroke-width="0.35" text-anchor="start" >+</text>
<text x="534.30" y="263.40" font-size="11.5" font-family="Liberation Sans" font-weight="bold" fill="#1a1a1a" stroke="#1a1a1a" stroke-width="0.45" text-anchor="start" >]</text>
<text x="539.20" y="263.40" font-size="11.5" font-family="Liberation Sans" font-weight="bold" fill="#1a1a1a" stroke="#1a1a1a" stroke-width="0.45" text-anchor="start" >&#215;</text>
<text x="546.20" y="263.40" font-size="11.5" font-family="Liberation Sans" font-weight="bold" fill="#1a1a1a" stroke="#1a1a1a" stroke-width="0.45" text-anchor="start" >10</text>
<text x="559.30" y="258.80" font-size="7" font-family="Liberation Sans" font-weight="bold" fill="#1a1a1a" stroke="#1a1a1a" stroke-width="0.45" text-anchor="start" >7</text>
<text x="567.00" y="263.40" font-size="11.5" font-family="Liberation Sans" font-weight="bold" fill="#1a1a1a" stroke="#1a1a1a" stroke-width="0.45" text-anchor="start" >M</text>
<text x="577.60" y="258.80" font-size="7" font-family="Liberation Sans" font-weight="bold" fill="#1a1a1a" stroke="#1a1a1a" stroke-width="0.45" text-anchor="start" >-</text>
<text x="580.70" y="258.80" font-size="7" font-family="Liberation Sans" font-weight="bold" fill="#1a1a1a" stroke="#1a1a1a" stroke-width="0.45" text-anchor="start" >1</text>
<text x="66.30" y="17.90" font-size="12.2" font-family="Liberation Sans" font-weight="bold" fill="#1a1a1a" stroke="#1a1a1a" stroke-width="0.15" text-anchor="start" >(</text>
<text x="70.30" y="17.90" font-size="11.8" font-family="Liberation Sans" font-weight="bold" fill="#1a1a1a" stroke="#1a1a1a" stroke-width="0.15" text-anchor="start" >b</text>
<text x="77.90" y="17.90" font-size="12.2" font-family="Liberation Sans" font-weight="bold" fill="#1a1a1a" stroke="#1a1a1a" stroke-width="0.15" text-anchor="start" >)</text>
<text x="393.60" y="19.50" font-size="12.2" font-family="Liberation Sans" fill="#1a1a1a" stroke="#1a1a1a" stroke-width="0.2" text-anchor="start" >(</text>
<text x="397.80" y="19.50" font-size="11.8" font-family="Liberation Sans" font-weight="bold" fill="#1a1a1a" stroke="#1a1a1a" stroke-width="0.15" text-anchor="start" >b</text>
<text x="406.10" y="19.50" font-size="12.2" font-family="Liberation Sans" fill="#1a1a1a" stroke="#1a1a1a" stroke-width="0.2" text-anchor="start" >)</text>
<text transform="translate(193.0,41.0) scale(0.88,1)" font-size="10.8" font-family="Liberation Sans" fill="#1a1a1a" stroke="#1a1a1a" stroke-width="0.6">N</text>
<text transform="translate(200.2,41.0) scale(0.88,1)" font-size="10.8" font-family="Liberation Sans" fill="#1a1a1a" stroke="#1a1a1a" stroke-width="0.6">I</text>
<text transform="translate(204.2,41.0) scale(0.88,1)" font-size="10.8" font-family="Liberation Sans" fill="#1a1a1a" stroke="#1a1a1a" stroke-width="0.6">C</text>
<text x="205.40" y="87.00" font-size="10.6" font-family="Liberation Sans" font-weight="bold" fill="#1a1a1a" stroke="#1a1a1a" stroke-width="0.2" text-anchor="start" textLength="22.0">0-10</text>
<text x="230.90" y="87.00" font-size="10.9" font-family="Liberation Sans" fill="#1a1a1a" stroke="#1a1a1a" stroke-width="0.6" text-anchor="start" textLength="57.6">equivalents</text>
<text x="291.60" y="87.00" font-size="10.9" font-family="Liberation Sans" fill="#1a1a1a" stroke="#1a1a1a" stroke-width="0.6" text-anchor="start" >of</text>
<text x="304.90" y="87.00" font-size="10.9" font-family="Liberation Sans" fill="#1a1a1a" stroke="#1a1a1a" stroke-width="0.6" text-anchor="start" textLength="15.2">Co</text>
<text x="320.60" y="82.80" font-size="6.5" font-family="Liberation Sans" fill="#1a1a1a" stroke="#1a1a1a" stroke-width="0.2" text-anchor="start" >2</text>
<text x="324.30" y="82.80" font-size="6.5" font-family="Liberation Sans" fill="#1a1a1a" stroke="#1a1a1a" stroke-width="0.2" text-anchor="start" >+</text>
<text x="558.70" y="25.10" font-size="10.5" font-family="Liberation Sans" fill="#1a1a1a" stroke="#1a1a1a" stroke-width="0.45" text-anchor="start" >R</text>
<text x="567.40" y="20.20" font-size="7.0" font-family="Liberation Sans" font-weight="bold" fill="#1a1a1a" stroke="#1a1a1a" stroke-width="0.1" text-anchor="start" >2</text>
<text x="573.50" y="25.10" font-size="10.5" font-family="Liberation Sans" fill="#1a1a1a" stroke="#1a1a1a" stroke-width="0.45" text-anchor="start" textLength="41">= 0.9912</text>
</svg>
</body></html>
